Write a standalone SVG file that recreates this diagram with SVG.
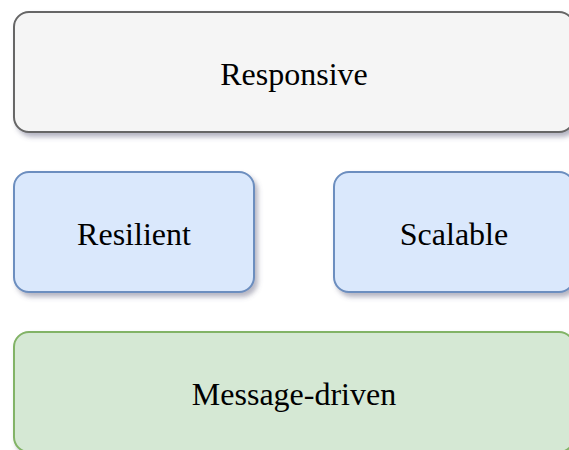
<svg xmlns="http://www.w3.org/2000/svg" width="569" height="450" viewBox="0 0 569 450">
<defs>
<filter id="sh" x="-10%" y="-10%" width="130%" height="140%">
<feDropShadow dx="3" dy="4" stdDeviation="2.5" flood-color="#5a5a78" flood-opacity="0.45"/>
</filter>
</defs>
<style>
.box{stroke-width:2;filter:url(#sh)}
.gray{fill:#f5f5f5;stroke:#666666}
.blue{fill:#dae8fc;stroke:#6c8ebf}
.green{fill:#d5e8d4;stroke:#82b366}
text{font-family:"Liberation Serif","Times New Roman",serif;font-size:32px;fill:#000;text-anchor:middle}
</style>
<rect width="569" height="450" fill="#ffffff"/>
<g id="connectors"></g>
<g id="responsive">
<rect class="box gray" x="14" y="12" width="560" height="120" rx="15" ry="15"/>
<text x="294" y="85">Responsive</text>
</g>
<g id="resilient">
<rect class="box blue" x="14" y="172" width="240" height="120" rx="15" ry="15"/>
<text x="134" y="245">Resilient</text>
</g>
<g id="scalable">
<rect class="box blue" x="334" y="172" width="240" height="120" rx="15" ry="15"/>
<text x="454" y="245">Scalable</text>
</g>
<g id="message-driven">
<rect class="box green" x="14" y="332" width="560" height="120" rx="15" ry="15"/>
<text x="294" y="405">Message-driven</text>
</g>
</svg>
